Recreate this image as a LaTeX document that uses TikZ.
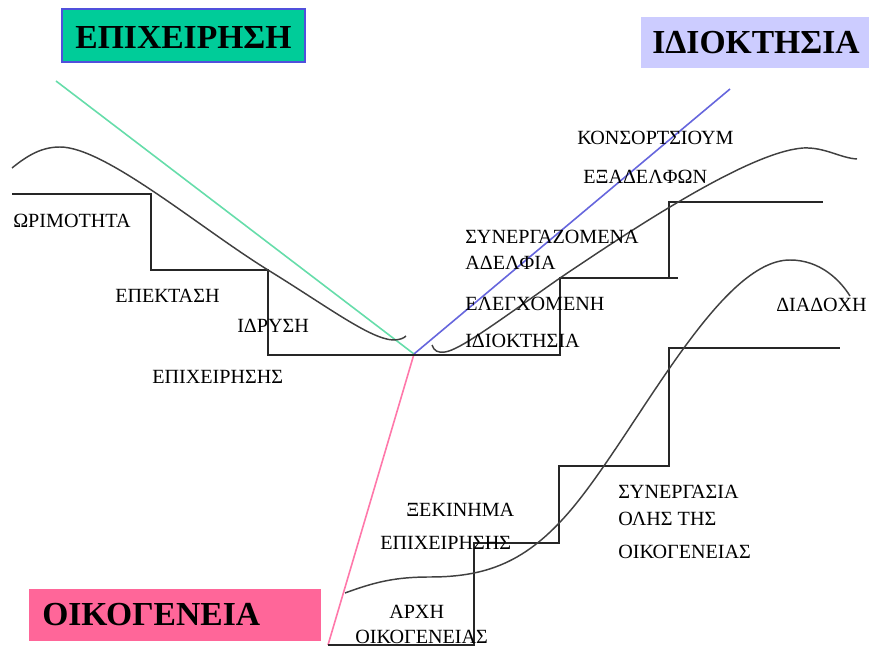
\documentclass[tikz,border=0pt]{standalone}
\usepackage{fontspec}
\setmainfont{Liberation Serif}
\definecolor{boxgreen}{RGB}{0,204,153}
\definecolor{boxblue}{RGB}{80,80,220}
\definecolor{boxlav}{RGB}{204,204,255}
\definecolor{boxpink}{RGB}{255,102,153}
\definecolor{lgreen}{RGB}{102,221,170}
\definecolor{lblue}{RGB}{102,102,221}
\definecolor{lpink}{RGB}{255,120,170}
\begin{document}
\begin{tikzpicture}[x=0.75pt,y=-0.75pt,
  lab/.style={anchor=west,inner sep=0pt,font=\fontsize{15.1}{17}\selectfont},
  title/.style={inner sep=0pt,font=\fontsize{25.2}{28}\selectfont\bfseries},
  stair/.style={draw=black!85,line width=1.3pt},
  wave/.style={draw=black!75,line width=1.1pt},
  ray/.style={line width=1.2pt}]
\useasboundingbox (0,0) rectangle (869,649);
% title boxes
\fill[boxgreen] (62,9) rectangle (305,62);
\draw[boxblue,line width=1.1pt] (62,9) rectangle (305,62);
\node[title] (tE) at (183.5,38) {ΕΠΙΧΕΙΡΗΣΗ};
\fill[boxlav] (641,17) rectangle (869,68);
\node[title] (tI) at (756,43) {ΙΔΙΟΚΤΗΣΙΑ};
\fill[boxpink] (29,589) rectangle (321,641);
\node[title,anchor=west] (tO) at (42,615) {ΟΙΚΟΓΕΝΕΙΑ};
% rays
\coordinate (V) at (414,354);
\coordinate (G) at (56,81);
\coordinate (B) at (730,89);
\coordinate (P) at (328,645);
\draw[ray,lgreen] (G) -- (V);
\draw[ray,lblue] (V) -- (B);
\draw[ray,lpink] (V) -- (P);
% stairs
\draw[stair] (12,194) -- (151,194) -- (151,270) -- (268,270) -- (268,355) -- (560,355) -- (560,278) -- (678,278);
\draw[stair] (669,278) -- (669,202) -- (823,202);
\draw[stair] (P) -- (474,645) -- (474,543) -- (559,543) -- (559,466) -- (669,466) -- (669,348) -- (840,348);
% waves
\draw[wave] (12,168) .. controls (28,155) and (42,147) .. (60,147)
  .. controls (105,147) and (200,228) .. (268,270)
  .. controls (325,305) and (370,339) .. (393,340)
  .. controls (400,340) and (404,338) .. (406,336);
\draw[wave] (432,345) .. controls (434,351) and (438,353) .. (445,352)
  .. controls (460,350) and (500,320) .. (560,278)
  .. controls (640,224) and (750,152) .. (803,148)
  .. controls (825,147) and (840,158) .. (857,159);
\draw[wave] (345,593) .. controls (375,582) and (395,577) .. (430,577)
  .. controls (490,577) and (530,560) .. (575,505)
  .. controls (640,425) and (720,260) .. (790,260)
  .. controls (820,260) and (840,280) .. (850,296);
% labels
\node[lab] (l1) at (13,221) {ΩΡΙΜΟΤΗΤΑ};
\node[lab] (l2) at (115,296) {ΕΠΕΚΤΑΣΗ};
\node[lab] (l3) at (237,326) {ΙΔΡΥΣΗ};
\node[lab] (l4) at (152,377) {ΕΠΙΧΕΙΡΗΣΗΣ};
\node[lab] (l5) at (577,138) {ΚΟΝΣΟΡΤΣΙΟΥΜ};
\node[lab] (l6) at (583,177) {ΕΞΑΔΕΛΦΩΝ};
\node[lab] (l7) at (465,237) {ΣΥΝΕΡΓΑΖΟΜΕΝΑ};
\node[lab] (l8) at (465,263) {ΑΔΕΛΦΙΑ};
\node[lab] (l9) at (465,304) {ΕΛΕΓΧΟΜΕΝΗ};
\node[lab] (l10) at (465,341) {ΙΔΙΟΚΤΗΣΙΑ};
\node[lab] (l11) at (776,305) {ΔΙΑΔΟΧΗ};
\node[lab] (l12) at (406,510) {ΞΕΚΙΝΗΜΑ};
\node[lab] (l13) at (380,543) {ΕΠΙΧΕΙΡΗΣΗΣ};
\node[lab] (l14) at (389,612) {ΑΡΧΗ};
\node[lab] (l15) at (355,637) {ΟΙΚΟΓΕΝΕΙΑΣ};
\node[lab] (l16) at (618,492) {ΣΥΝΕΡΓΑΣΙΑ};
\node[lab] (l17) at (618,519) {ΟΛΗΣ ΤΗΣ};
\node[lab] (l18) at (618,552) {ΟΙΚΟΓΕΝΕΙΑΣ};
\end{tikzpicture}
\end{document}
